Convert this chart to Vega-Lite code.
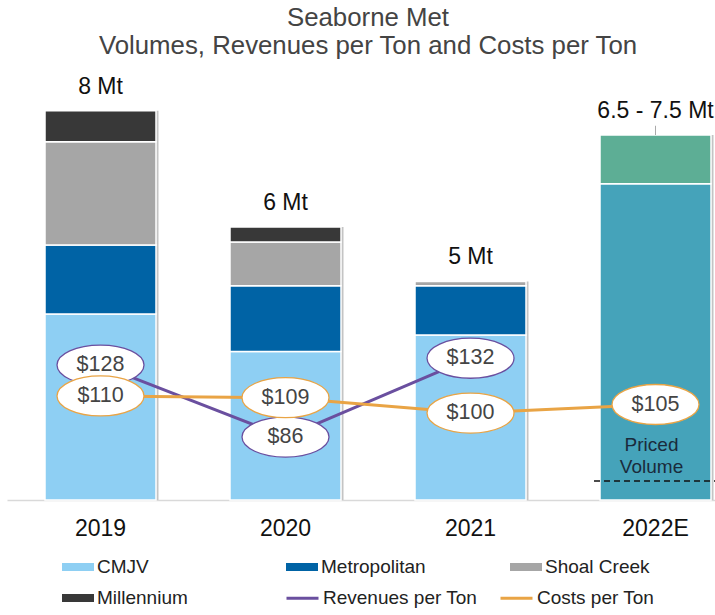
{
  "$schema": "https://vega.github.io/schema/vega-lite/v6.json",
  "width": 708,
  "height": 438,
  "autosize": "none",
  "padding": {"left": 7, "top": 62, "right": 0, "bottom": 115},
  "background": "white",
  "config": {
    "font": "Liberation Sans",
    "view": {"stroke": null},
    "axisX": {"title": null, "labelAngle": 0, "ticks": false, "grid": false, "domainColor": "#d9d9d9", "domainWidth": 1.5, "labelFontSize": 23, "labelColor": "#111111", "labelPadding": 17},
    "legend": {"labelFontSize": 19, "labelColor": "#222222", "labelFont": "Liberation Sans", "rowPadding": 5, "gridAlign": "all", "labelOffset": 3, "title": null, "padding": 0}
  },
  "title": {
    "text": ["Seaborne Met", "Volumes, Revenues per Ton and Costs per Ton"],
    "fontSize": 25.8, "fontWeight": "normal", "color": "#444444", "lineHeight": 28,
    "anchor": "middle", "dx": 7, "offset": 2
  },
  "datasets": {
    "volumes": [
      {"year": "2019", "series": "CMJV", "mt": 3.82},
      {"year": "2019", "series": "Metropolitan", "mt": 1.42},
      {"year": "2019", "series": "Shoal Creek", "mt": 2.12},
      {"year": "2019", "series": "Millennium", "mt": 0.64},
      {"year": "2020", "series": "CMJV", "mt": 3.05},
      {"year": "2020", "series": "Metropolitan", "mt": 1.35},
      {"year": "2020", "series": "Shoal Creek", "mt": 0.90},
      {"year": "2020", "series": "Millennium", "mt": 0.31},
      {"year": "2021", "series": "CMJV", "mt": 3.39},
      {"year": "2021", "series": "Metropolitan", "mt": 1.01},
      {"year": "2021", "series": "Shoal Creek", "mt": 0.09},
      {"year": "2022E", "series": "Priced", "mt": 6.5},
      {"year": "2022E", "series": "Unpriced", "mt": 1.0}
    ],
    "labels": [
      {"year": "2019", "label": "8 Mt"},
      {"year": "2020", "label": "6 Mt"},
      {"year": "2021", "label": "5 Mt"},
      {"year": "2022E", "label": "6.5 - 7.5 Mt"}
    ],
    "prices": [
      {"year": "2019", "metric": "Revenues per Ton", "value": 128},
      {"year": "2020", "metric": "Revenues per Ton", "value": 86},
      {"year": "2021", "metric": "Revenues per Ton", "value": 132},
      {"year": "2019", "metric": "Costs per Ton", "value": 110},
      {"year": "2020", "metric": "Costs per Ton", "value": 109},
      {"year": "2021", "metric": "Costs per Ton", "value": 100},
      {"year": "2022E", "metric": "Costs per Ton", "value": 105}
    ]
  },
  "resolve": {"scale": {"y": "independent"}},
  "layer": [
    {
      "layer": [
        {
          "data": {"name": "volumes"},
          "transform": [{"aggregate": [{"op": "sum", "field": "mt", "as": "total"}], "groupby": ["year"]}],
          "mark": {"type": "bar", "fill": "#c4c4c4", "xOffset": 2.5},
          "encoding": {
            "x": {"field": "year", "type": "nominal", "scale": {"paddingInner": 0.4, "paddingOuter": 0.1135, "align": 0.905}},
            "y": {"field": "total", "type": "quantitative", "scale": {"domain": [0, 9]}, "axis": null}
          }
        },
        {
          "data": {"name": "volumes"},
          "transform": [{"calculate": "indexof(['CMJV','Metropolitan','Shoal Creek','Millennium','Priced','Unpriced'], datum.series)", "as": "ord"}],
          "mark": {"type": "bar", "stroke": "white", "strokeWidth": 1.5},
          "encoding": {
            "x": {"field": "year", "type": "nominal", "scale": {"paddingInner": 0.4, "paddingOuter": 0.1135, "align": 0.905}},
            "y": {"field": "mt", "type": "quantitative", "stack": "zero", "scale": {"domain": [0, 9]}, "axis": null},
            "order": {"field": "ord", "type": "quantitative"},
            "fill": {
              "field": "series", "type": "nominal",
              "scale": {
                "domain": ["CMJV", "Metropolitan", "Shoal Creek", "Millennium", "Priced", "Unpriced"],
                "range": ["#8ecff3", "#0063a5", "#a6a6a6", "#383838", "#45a3ba", "#5dae95"]
              },
              "legend": {
                "orient": "none", "legendX": 55, "legendY": 489, "direction": "horizontal", "columns": 3,
                "values": ["CMJV", "Metropolitan", "Shoal Creek", "Millennium"],
                "columnPadding": 84,
                "symbolType": "M-1,-0.25H1V0.25H-1Z", "symbolSize": 1024, "symbolStrokeWidth": 0
              }
            }
          }
        },
        {
          "data": {"name": "volumes"},
          "transform": [
            {"aggregate": [{"op": "sum", "field": "mt", "as": "total"}], "groupby": ["year"]},
            {"lookup": "year", "from": {"data": {"name": "labels"}, "key": "year", "fields": ["label"]}}
          ],
          "mark": {"type": "text", "fontSize": 23, "color": "#111111", "baseline": "alphabetic", "dy": -17},
          "encoding": {
            "x": {"field": "year", "type": "nominal", "scale": {"paddingInner": 0.4, "paddingOuter": 0.1135, "align": 0.905}},
            "y": {"field": "total", "type": "quantitative", "scale": {"domain": [0, 9]}, "axis": null},
            "text": {"field": "label"}
          }
        },
        {
          "data": {"values": [{}]},
          "mark": {"type": "rule", "color": "#aaaaaa", "strokeWidth": 1},
          "encoding": {
            "x": {"datum": "2022E", "type": "nominal"},
            "y": {"datum": 7.5, "type": "quantitative", "scale": {"domain": [0, 9]}, "axis": null},
            "y2": {"datum": 7.69}
          }
        },
        {
          "data": {"values": [{}]},
          "mark": {"type": "rule", "color": "#111111", "strokeWidth": 1.5, "strokeDash": [6, 4], "xOffset": -6, "x2Offset": 6},
          "encoding": {
            "x": {"datum": "2022E", "type": "nominal", "bandPosition": 0},
            "x2": {"datum": "2022E", "bandPosition": 1},
            "y": {"datum": 0.39, "type": "quantitative", "scale": {"domain": [0, 9]}, "axis": null}
          }
        },
        {
          "data": {"values": [{}]},
          "mark": {"type": "text", "fontSize": 19, "color": "#1a2b3c", "baseline": "alphabetic", "lineHeight": 22.5, "dx": -4},
          "encoding": {
            "x": {"datum": "2022E", "type": "nominal"},
            "y": {"datum": 1.01, "type": "quantitative", "scale": {"domain": [0, 9]}, "axis": null},
            "text": {"value": ["Priced", "Volume"]}
          }
        }
      ]
    },
    {
      "data": {"name": "prices"},
      "layer": [
        {
          "mark": {"type": "line", "strokeWidth": 3},
          "encoding": {
            "x": {"field": "year", "type": "nominal", "scale": {"paddingInner": 0.4, "paddingOuter": 0.1135, "align": 0.905}},
            "y": {"field": "value", "type": "quantitative", "scale": {"domain": [49.3, 304.8], "zero": false}, "axis": null},
            "stroke": {
              "field": "metric", "type": "nominal",
              "scale": {"domain": ["Revenues per Ton", "Costs per Ton"], "range": ["#6a4f9f", "#e9a445"]},
              "legend": {
                "orient": "none", "legendX": 278, "legendY": 518.5, "direction": "horizontal", "columns": 2,
                "columnPadding": 16,
                "symbolType": "M-1,0H1", "symbolSize": 1024, "symbolStrokeWidth": 3
              }
            }
          }
        },
        {
          "mark": {"type": "point", "shape": "M-1,0A1,0.46 0 1,0 1,0A1,0.46 0 1,0 -1,0Z", "size": 7569, "filled": true, "fill": "white", "fillOpacity": 1, "strokeWidth": 1.3, "opacity": 1},
          "encoding": {
            "x": {"field": "year", "type": "nominal", "scale": {"paddingInner": 0.4, "paddingOuter": 0.1135, "align": 0.905}},
            "y": {"field": "value", "type": "quantitative", "scale": {"domain": [49.3, 304.8], "zero": false}, "axis": null},
            "stroke": {"field": "metric", "type": "nominal"}
          }
        },
        {
          "mark": {"type": "text", "fontSize": 21.5, "color": "#444444"},
          "encoding": {
            "x": {"field": "year", "type": "nominal", "scale": {"paddingInner": 0.4, "paddingOuter": 0.1135, "align": 0.905}},
            "y": {"field": "value", "type": "quantitative", "scale": {"domain": [49.3, 304.8], "zero": false}, "axis": null},
            "text": {"field": "value", "type": "quantitative", "format": "$d"}
          }
        }
      ]
    }
  ]
}
